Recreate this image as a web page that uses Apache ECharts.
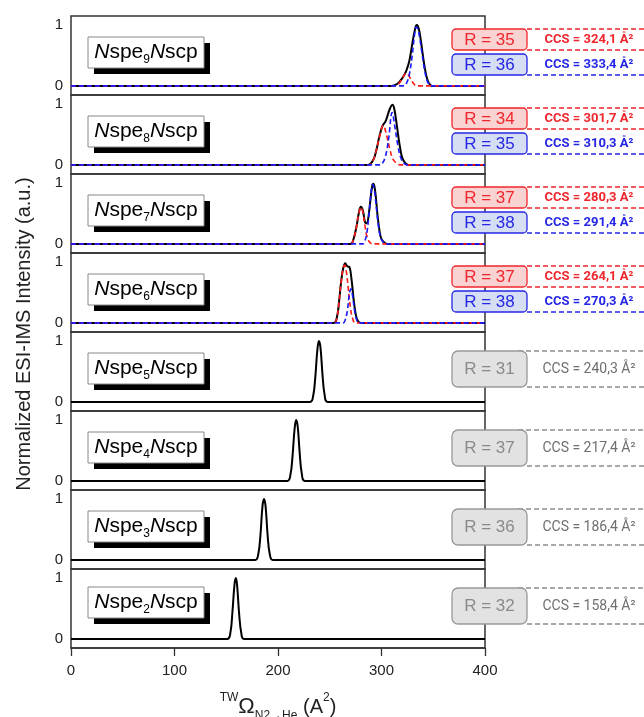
<!DOCTYPE html>
<html>
  <head>
    <meta charset="UTF-8">
    <title>ESI-IMS</title>
    <script src="https://cdn.jsdelivr.net/npm/echarts@6/dist/echarts.min.js"></script>
  </head>
  <body style="margin:0">
    <div id="box" style="width:644px;height:717px"></div>
    <script>
        // tick labels
        var xTicks = [0, 100, 200, 300, 400];
        var yTicks = [0, 1];

        // panels, top to bottom (subscript n of Nspe_nNscp)
        var panelN = ['9', '8', '7', '6', '5', '4', '3', '2'];
        var rRed = [35, 34, 37, 37];
        var rBlue = [36, 35, 38, 38];
        var ccsRed = ['324,1', '301,7', '280,3', '264,1'];
        var ccsBlue = ['333,4', '310,3', '291,4', '270,3'];
        var rGray = [31, 37, 36, 32];
        var ccsGray = ['240,3', '217,4', '186,4', '158,4'];

        // measured curves [CCS, intensity]
        var exp9 = [[0,0],[310,0],[314,0.02],[318,0.08],[321,0.15],[324,0.25],[327,0.42],[330,0.72],[332,0.9],[334,1.0],[336,0.94],[338,0.75],[340,0.5],[342,0.28],[344,0.12],[346,0.04],[349,0],[400,0]];
        var red9 = [[0,0],[314,0],[317,0.04],[320,0.12],[322,0.18],[324,0.21],[326,0.18],[328,0.12],[331,0.04],[334,0],[400,0]];
        var blue9 = [[0,0],[321,0],[324,0.04],[327,0.2],[330,0.55],[332,0.85],[333.5,0.97],[335,0.94],[337,0.78],[339,0.55],[341,0.32],[343,0.15],[345,0.05],[348,0],[400,0]];

        var exp8 = [[0,0],[287,0],[292,0.08],[295,0.24],[298,0.47],[301,0.64],[304,0.72],[306,0.82],[308,0.92],[310.5,0.99],[312,0.95],[314,0.75],[316,0.5],[318,0.28],[320,0.12],[323,0.03],[326,0],[400,0]];
        var red8 = [[0,0],[288,0],[292,0.08],[295,0.24],[298,0.46],[301.7,0.65],[305,0.48],[308,0.26],[311,0.1],[315,0.02],[318,0],[400,0]];
        var blue8 = [[0,0],[298,0],[301,0.03],[304,0.15],[307,0.45],[310.3,0.86],[313,0.62],[316,0.3],[319,0.1],[322,0.02],[325,0],[400,0]];

        var exp7 = [[0,0],[270,0],[273,0.08],[276,0.3],[278,0.5],[280,0.61],[282,0.55],[284,0.36],[285.5,0.34],[287,0.4],[289,0.68],[291,0.95],[292.3,0.99],[294,0.85],[296,0.5],[298,0.22],[300,0.08],[303,0.02],[306,0],[400,0]];
        var red7 = [[0,0],[270,0],[273,0.08],[276,0.3],[278,0.5],[280.3,0.6],[282,0.52],[284,0.3],[286,0.12],[289,0.02],[292,0],[400,0]];
        var blue7 = [[0,0],[282,0],[284,0.05],[286,0.2],[288,0.5],[290,0.85],[291.4,0.98],[293,0.9],[295,0.6],[297,0.3],[299,0.12],[302,0.02],[305,0],[400,0]];

        var exp6 = [[0,0],[254,0],[257,0.1],[259,0.35],[261,0.68],[263,0.9],[265,0.98],[267,0.93],[269,0.92],[271,0.72],[273,0.4],[275,0.15],[277,0.04],[280,0],[400,0]];
        var red6 = [[0,0],[254,0],[257,0.1],[259,0.35],[261,0.68],[263,0.9],[264.5,0.95],[266,0.85],[268,0.55],[270,0.25],[272,0.08],[275,0],[400,0]];
        var blue6 = [[0,0],[263,0],[265,0.05],[267,0.2],[269,0.48],[270.5,0.56],[272,0.45],[274,0.2],[276,0.05],[278,0],[400,0]];

        var exp5 = [[0,0],[231,0],[234,0.1],[236,0.4],[238,0.85],[239.5,1.0],[241,0.9],[243,0.45],[245,0.12],[248,0],[400,0]];
        var exp4 = [[0,0],[209,0],[212,0.1],[214,0.4],[216,0.85],[217.5,1.0],[219,0.9],[221,0.45],[223,0.12],[226,0],[400,0]];
        var exp3 = [[0,0],[178,0],[181,0.1],[183,0.4],[185,0.88],[186.5,1.0],[188,0.88],[190,0.4],[192,0.1],[195,0],[400,0]];
        var exp2 = [[0,0],[151,0],[154,0.1],[156,0.45],[158,0.9],[159.3,1.0],[160.5,0.88],[162.5,0.4],[164.5,0.1],[167,0],[400,0]];

        var expData = [exp9, exp8, exp7, exp6, exp5, exp4, exp3, exp2];
        var redData = [red9, red8, red7, red6];
        var blueData = [blue9, blue8, blue7, blue6];

        var FONT = '"Liberation Sans", Arial, sans-serif';
        var RED = '#f0262d', BLUE = '#2626e6', GRAY = '#8c8c8c';
        var top0 = 16, panelH = 79, left = 71, right = 159;

        var grids = [], xAxes = [], yAxes = [], series = [], graphics = [];
        var last = panelN.length - 1;

        panelN.forEach(function (n, k) {
            var top = top0 + k * panelH;
            grids.push({left: left, right: right, top: top, height: panelH,
                        show: true, borderColor: '#333', borderWidth: 1.5, backgroundColor: 'transparent'});
            xAxes.push({
                gridIndex: k, type: 'value', min: 0, max: 400, interval: 100,
                show: k === last,
                axisLine: {show: true, onZero: false, lineStyle: {color: '#333', width: 1.5}},
                axisTick: {show: true, inside: false, length: 8, lineStyle: {color: '#333', width: 1.3}},
                axisLabel: {fontSize: 15, color: '#222', fontFamily: FONT, margin: 15},
                splitLine: {show: false}
            });
            yAxes.push({
                gridIndex: k, type: 'value', min: -0.15, max: 1.15,
                axisLine: {show: false}, axisTick: {show: false}, splitLine: {show: false},
                axisLabel: {customValues: yTicks, fontSize: 15, color: '#222', fontFamily: FONT, margin: 8}
            });
            series.push({type: 'line', xAxisIndex: k, yAxisIndex: k, data: expData[k],
                         smooth: 0.4, showSymbol: false, lineStyle: {color: '#000', width: 2}, z: 2});
            if (k < 4) {
                series.push({type: 'line', xAxisIndex: k, yAxisIndex: k, data: redData[k],
                             smooth: 0.4, showSymbol: false, lineStyle: {color: '#ff1a1a', width: 1.6, type: [5, 3]}, z: 3});
                series.push({type: 'line', xAxisIndex: k, yAxisIndex: k, data: blueData[k],
                             smooth: 0.4, showSymbol: false, lineStyle: {color: '#1a1aff', width: 1.6, type: [5, 3]}, z: 4});
            }

            // panel label with black shadow
            var ly = top + (k === last ? 18 : 21);
            graphics.push({type: 'rect', shape: {x: 94, y: ly + 6, width: 116, height: 31}, style: {fill: '#000'}, z: 10});
            graphics.push({type: 'rect', shape: {x: 88, y: ly, width: 116, height: 31},
                           style: {fill: '#fff', stroke: '#888', lineWidth: 1}, z: 11});
            graphics.push({type: 'text', x: 146, y: ly + 15, z: 12, style: {
                text: '{i|N}{r|spe}{s|' + n + '}{i|N}{r|scp}', align: 'center', verticalAlign: 'middle',
                rich: {
                    i: {fontFamily: FONT, fontSize: 21, fontStyle: 'italic', lineHeight: 28, fill: '#000'},
                    r: {fontFamily: FONT, fontSize: 21, lineHeight: 28, fill: '#000'},
                    s: {fontFamily: FONT, fontSize: 12, lineHeight: 12, verticalAlign: 'bottom', fill: '#000'}
                }
            }});

            // right-hand annotations
            if (k < 4) {
                var ry = top + 13, by = top + 38;
                graphics.push({type: 'line', shape: {x1: 527, y1: ry, x2: 644, y2: ry}, style: {stroke: RED, lineWidth: 1.3, lineDash: [5, 3]}, z: 10});
                graphics.push({type: 'line', shape: {x1: 527, y1: ry + 21, x2: 644, y2: ry + 21}, style: {stroke: RED, lineWidth: 1.3, lineDash: [5, 3]}, z: 10});
                graphics.push({type: 'line', shape: {x1: 527, y1: by + 21, x2: 644, y2: by + 21}, style: {stroke: BLUE, lineWidth: 1.3, lineDash: [5, 3]}, z: 10});
                graphics.push({type: 'rect', shape: {x: 452, y: ry, width: 75, height: 21, r: 4},
                               style: {fill: '#f9d2d2', stroke: RED, lineWidth: 1.3}, z: 11});
                graphics.push({type: 'rect', shape: {x: 452, y: by, width: 75, height: 21, r: 4},
                               style: {fill: '#d5def3', stroke: BLUE, lineWidth: 1.3}, z: 11});
                graphics.push({type: 'text', x: 489.5, y: ry + 11, z: 12, style: {text: 'R = ' + rRed[k],
                               fontFamily: FONT, fontSize: 17, fill: RED, align: 'center', verticalAlign: 'middle'}});
                graphics.push({type: 'text', x: 489.5, y: by + 11, z: 12, style: {text: 'R = ' + rBlue[k],
                               fontFamily: FONT, fontSize: 17, fill: BLUE, align: 'center', verticalAlign: 'middle'}});
                graphics.push({type: 'text', x: 589, y: ry + 11, z: 12, style: {text: 'CCS = ' + ccsRed[k] + ' Å²',
                               fontFamily: 'Roboto, sans-serif', fontSize: 13, fontWeight: 'bold', fill: RED, align: 'center', verticalAlign: 'middle'}});
                graphics.push({type: 'text', x: 589, y: by + 11, z: 12, style: {text: 'CCS = ' + ccsBlue[k] + ' Å²',
                               fontFamily: 'Roboto, sans-serif', fontSize: 13, fontWeight: 'bold', fill: BLUE, align: 'center', verticalAlign: 'middle'}});
            } else {
                var gy = top + 19, j = k - 4;
                graphics.push({type: 'line', shape: {x1: 518, y1: gy, x2: 644, y2: gy}, style: {stroke: GRAY, lineWidth: 1.3, lineDash: [5, 3]}, z: 10});
                graphics.push({type: 'line', shape: {x1: 527, y1: gy + 36, x2: 644, y2: gy + 36}, style: {stroke: GRAY, lineWidth: 1.3, lineDash: [5, 3]}, z: 10});
                graphics.push({type: 'rect', shape: {x: 452, y: gy, width: 75, height: 36, r: 6},
                               style: {fill: '#e2e2e2', stroke: '#999', lineWidth: 1.3}, z: 11});
                graphics.push({type: 'text', x: 489.5, y: gy + 18, z: 12, style: {text: 'R = ' + rGray[j],
                               fontFamily: FONT, fontSize: 17, fill: '#8a8a8a', align: 'center', verticalAlign: 'middle'}});
                graphics.push({type: 'text', x: 589, y: gy + 18, z: 12, style: {text: 'CCS = ' + ccsGray[j] + ' Å²',
                               fontFamily: 'Roboto, sans-serif', fontSize: 14, fill: '#6f6f6f', align: 'center', verticalAlign: 'middle'}});
            }
        });

        // axis titles
        graphics.push({type: 'text', x: 24, y: 334, rotation: Math.PI / 2, z: 12, style: {
            text: 'Normalized ESI-IMS Intensity (a.u.)', fontFamily: FONT, fontSize: 20, fill: '#222',
            align: 'center', verticalAlign: 'middle'}});
        graphics.push({type: 'text', x: 278, y: 707, z: 12, style: {
            text: '{p|TW}{o|Ω}{b|N2→He}{n| (A}{q|2}{n|)}', align: 'center', verticalAlign: 'middle',
            rich: {
                p: {fontFamily: FONT, fontSize: 12, lineHeight: 30, verticalAlign: 'top', fill: '#222'},
                q: {fontFamily: FONT, fontSize: 12, lineHeight: 24, verticalAlign: 'top', fill: '#222'},
                o: {fontFamily: FONT, fontSize: 22, lineHeight: 30, fill: '#222'},
                b: {fontFamily: FONT, fontSize: 12, lineHeight: 12, verticalAlign: 'bottom', fill: '#222'},
                n: {fontFamily: FONT, fontSize: 20, lineHeight: 30, fill: '#222'}
            }
        }});

        var myChart = echarts.init(document.getElementById('box'));
        myChart.setOption({
            animation: false,
            grid: grids,
            xAxis: xAxes,
            yAxis: yAxes,
            series: series,
            graphic: graphics
        });
    </script>
  </body>
</html>
